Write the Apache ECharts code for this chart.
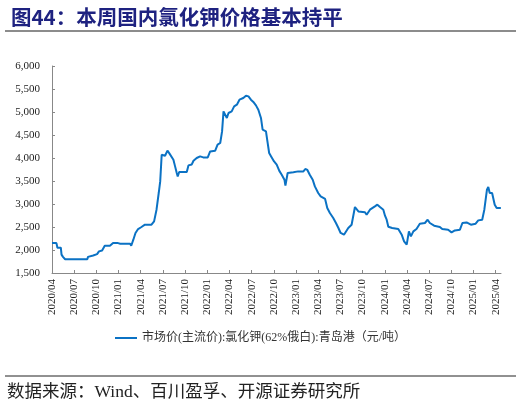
<!DOCTYPE html>
<html>
<head>
<meta charset="utf-8">
<script src="https://cdn.jsdelivr.net/npm/echarts@6/dist/echarts.min.js"></script>
<style>
html,body{margin:0;padding:0;background:#fff;}
#chart{width:521px;height:405px;}
</style>
</head>
<body>
<div id="chart"></div>
<script>
// Dates of observations and prices (元/吨)
const dates = [
'2020-04-01','2020-04-19','2020-04-23','2020-05-07','2020-05-10','2020-05-16','2020-05-25','2020-08-25','2020-08-28','2020-09-18',
'2020-10-04','2020-10-12','2020-10-25','2020-11-05','2020-11-26','2020-12-09','2020-12-30','2021-01-08','2021-02-17','2021-02-21',
'2021-03-01','2021-03-10','2021-03-21','2021-04-04','2021-04-18','2021-05-15','2021-05-26','2021-06-05','2021-06-14','2021-06-20',
'2021-06-26','2021-07-03','2021-07-10','2021-07-20','2021-07-28','2021-08-03','2021-08-14','2021-08-21','2021-08-28','2021-09-01',
'2021-09-07','2021-10-08','2021-10-15','2021-10-29','2021-11-05','2021-11-18','2021-12-02','2021-12-15','2022-01-03','2022-01-13',
'2022-02-03','2022-02-12','2022-02-22','2022-03-01','2022-03-07','2022-03-14','2022-03-21','2022-03-28','2022-04-10','2022-04-20',
'2022-05-01','2022-05-12','2022-05-28','2022-06-08','2022-06-18','2022-06-28','2022-07-08','2022-07-19','2022-07-29','2022-08-09',
'2022-08-16','2022-08-30','2022-09-05','2022-09-12','2022-09-20','2022-10-02','2022-10-13','2022-10-24','2022-11-03','2022-11-14',
'2022-11-18','2022-11-27','2022-12-01','2022-12-21','2023-01-10','2023-02-01','2023-02-08','2023-02-16','2023-02-25','2023-03-09',
'2023-03-18','2023-04-01','2023-04-11','2023-04-29','2023-05-08','2023-05-19','2023-06-02','2023-06-13','2023-06-23','2023-07-02',
'2023-07-16','2023-07-24','2023-08-03','2023-08-17','2023-08-31','2023-09-07','2023-09-14','2023-10-11','2023-10-18','2023-11-01',
'2023-11-21','2023-12-01','2023-12-12','2023-12-26','2024-01-02','2024-01-09','2024-01-16','2024-02-01','2024-02-25','2024-03-10',
'2024-03-20','2024-03-31','2024-04-09','2024-04-17','2024-04-27','2024-05-10','2024-05-24','2024-06-14','2024-06-25','2024-07-04',
'2024-07-22','2024-08-15','2024-08-25','2024-09-18','2024-10-02','2024-10-16','2024-11-06','2024-11-16','2024-12-03','2024-12-21',
'2025-01-10','2025-01-21','2025-02-06','2025-02-14','2025-02-24','2025-03-01','2025-03-07','2025-03-17','2025-03-28','2025-04-05',
'2025-04-22'
];
const prices = [
2150,2150,2050,2050,1900,1850,1800,1800,1850,1880,
1910,1970,1990,2090,2090,2150,2150,2137,2137,2093,
2224,2370,2456,2500,2550,2550,2622,2876,3239,3491,
4072,4109,4050,4159,4100,4057,3963,3818,3674,3600,
3696,3696,3839,3860,3941,4000,4035,4013,4013,4143,
4159,4289,4326,4578,5013,4978,4870,4978,5013,5122,
5159,5268,5304,5354,5340,5268,5218,5144,5050,4870,
4615,4578,4361,4109,4035,3926,3854,3720,3637,3528,
3398,3674,3709,3690,3709,3709,3761,3740,3637,3528,
3383,3239,3165,3109,2913,2804,2696,2587,2478,2370,
2333,2311,2478,2550,2935,2935,2839,2820,2767,2876,
2948,2985,2935,2876,2746,2659,2505,2478,2456,2333,
2187,2115,2405,2296,2405,2456,2572,2587,2659,2587,
2528,2500,2456,2441,2383,2426,2441,2587,2600,2550,
2572,2644,2659,2876,3311,3370,3239,3239,2985,2913,
2913
];
const yTicks = [1500,2000,2500,3000,3500,4000,4500,5000,5500,6000];
const xTickLabels = ['2020/04','2020/07','2020/10','2021/01','2021/04','2021/07','2021/10','2022/01','2022/04','2022/07','2022/10','2023/01','2023/04','2023/07','2023/10','2024/01','2024/04','2024/07','2024/10','2025/01','2025/04'];
const seriesName = '市场价(主流价):氯化钾(62%俄白):青岛港（元/吨）';

// month offset from 2020/04
function monthOffset(s){
  const [y,m,d] = s.split('-').map(Number);
  const dim = new Date(y, m, 0).getDate();
  return (y-2020)*12 + (m-4) + (d-1)/dim;
}
function labelToOffset(s){
  const [y,m] = s.split('/').map(Number);
  return (y-2020)*12 + (m-4);
}
const tickOffsets = xTickLabels.map(labelToOffset);
const data = dates.map((d,i)=>[monthOffset(d), prices[i]]);

const chart = echarts.init(document.getElementById('chart'));
const serif = '"Liberation Serif","Times New Roman",serif';
chart.setOption({
  animation:false,
  title:{
    text:'图44：本周国内氯化钾价格基本持平',
    left:6, top:2,
    textStyle:{fontFamily:'"Noto Sans CJK SC"',fontWeight:'bold',fontSize:20.5,color:'#1e2280'}
  },
  grid:{left:52,right:20,top:66,bottom:132},
  legend:{
    data:[seriesName],
    left:'center', top:327,
    itemWidth:22, itemHeight:2, icon:'rect',
    textStyle:{fontFamily:serif+',"Noto Sans CJK SC"',fontSize:12,color:'#333'}
  },
  xAxis:{
    type:'value', min:0, max:60.72,
    splitLine:{show:false},
    axisLine:{lineStyle:{color:'#888',width:1}},
    axisTick:{inside:true,length:3,lineStyle:{color:'#888'},customValues:tickOffsets},
    axisLabel:{
      customValues:tickOffsets,
      rotate:90, fontFamily:serif, fontSize:11, color:'#222', margin:6,
      formatter:function(v){
        const i = tickOffsets.findIndex(t=>Math.abs(t-v)<1e-6);
        return i>=0 ? xTickLabels[i] : '';
      }
    }
  },
  yAxis:{
    type:'value', min:yTicks[0], max:yTicks[yTicks.length-1], interval:500,
    splitLine:{show:false},
    axisLine:{show:true,lineStyle:{color:'#888',width:1}},
    axisTick:{show:true,inside:true,length:3,lineStyle:{color:'#888'}},
    axisLabel:{
      fontFamily:serif, fontSize:11, color:'#222', margin:12,
      formatter:function(v){ return v.toLocaleString('en-US'); }
    }
  },
  series:[{
    name:seriesName,
    type:'line',
    data:data,
    showSymbol:false,
    lineStyle:{color:'#0b72c4',width:2},
    itemStyle:{color:'#0b72c4'}
  }],
  graphic:[
    {type:'line',shape:{x1:5,y1:31,x2:516,y2:31},style:{stroke:'#666',lineWidth:1.5}},
    {type:'line',shape:{x1:5,y1:376,x2:516,y2:376},style:{stroke:'#222',lineWidth:1}},
    {type:'text',left:7,top:384,style:{text:'数据来源：Wind、百川盈孚、开源证券研究所',font:'17.5px "Liberation Serif","Noto Sans CJK SC"',fill:'#222'}}
  ]
});
</script>
</body>
</html>
